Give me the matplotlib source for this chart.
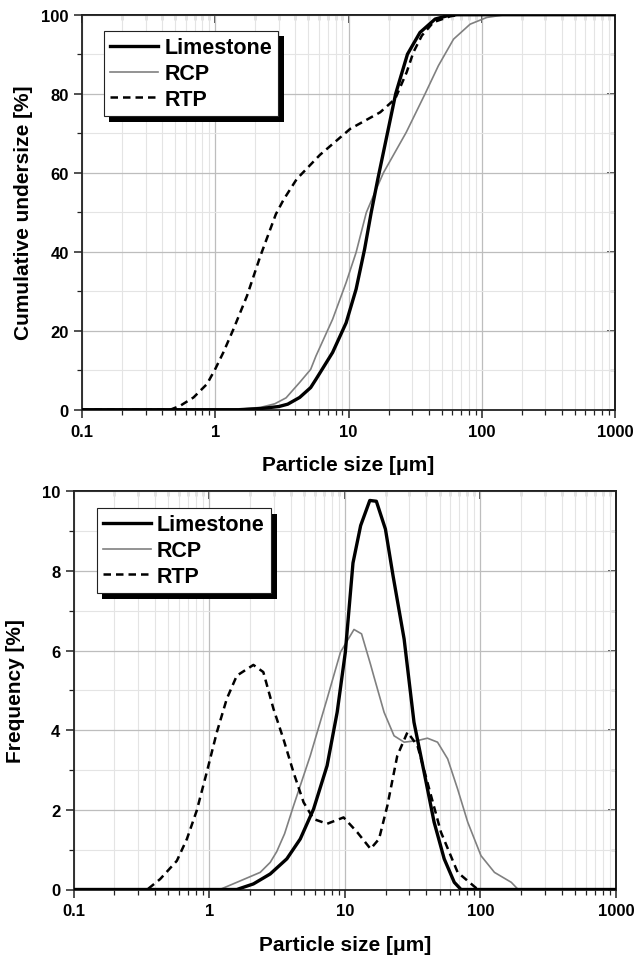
"""
Particle size distributions of limestone, RCP and RTP powders:
cumulative undersize (top) and frequency (bottom) on a log size axis.
"""

import matplotlib
matplotlib.use('Agg')
import matplotlib.pyplot as plt
from matplotlib.patches import Rectangle
from matplotlib.ticker import LogLocator, MultipleLocator, FixedFormatter, FixedLocator
from matplotlib.transforms import IdentityTransform


# --- cumulative undersize [%] -------------------------------------------
LIME_CUM_X = [0.1, 1.5, 2.2, 3.0, 3.5, 4.3, 5.2, 5.7, 7.6, 9.6, 11.4, 13.2,
              14.8, 16.6, 22.6, 27.7, 34.4, 44.7, 54.7, 65, 1000]
LIME_CUM_Y = [0, 0, 0.3, 0.8, 1.4, 3.1, 5.6, 7.7, 14.5, 22, 30.5, 40.6,
              49.9, 58.4, 80, 90, 95.5, 98.9, 99.7, 100, 100]

RCP_CUM_X = [0.1, 1.4, 2.2, 2.8, 3.4, 4.3, 5.2, 5.7, 7.6, 9.6, 11.4, 13.6,
             16, 18.3, 27.1, 37.6, 47.3, 61.4, 81.8, 109, 150, 1000]
RCP_CUM_Y = [0, 0, 0.6, 1.5, 3.0, 6.9, 10.2, 13.6, 22.9, 32.2, 39.8, 49.9,
             55.5, 60, 70.2, 80, 87.1, 93.8, 97.6, 99.3, 100, 100]

RTP_CUM_X = [0.1, 0.46, 0.546, 0.687, 0.867, 1.0, 1.15, 1.37, 1.73, 2.18,
             2.85, 3.26, 4.09, 6.1, 10.3, 17.3, 22.4, 27.3, 30.7, 35.5, 43.4,
             58, 70, 1000]
RTP_CUM_Y = [0, 0, 1.0, 3.1, 6.5, 10.3, 14.5, 20.4, 28.8, 38.9, 49.5, 53.2,
             58.4, 64.5, 71.1, 75.3, 78.7, 85.4, 90.5, 94.7, 98.1, 99.6, 100,
             100]

# --- frequency [%] -------------------------------------------------------
LIME_FREQ_X = [0.1, 1.6, 2.12, 2.82, 3.74, 4.7, 5.89, 7.41, 8.79, 10.1, 11.5,
               13.1, 15.3, 17.1, 19.95, 22.7, 27.4, 32.4, 38.5, 45.6, 54.1,
               64.2, 72, 1000]
LIME_FREQ_Y = [0, 0, 0.14, 0.39, 0.77, 1.27, 2.02, 3.11, 4.45, 5.96, 8.2,
               9.14, 9.77, 9.75, 9.05, 7.88, 6.29, 4.2, 2.94, 1.69, 0.77,
               0.18, 0, 0]

RCP_FREQ_X = [0.1, 1.2, 1.6, 2.38, 2.82, 3.15, 3.6, 4.19, 5.57, 7.41, 9.3,
              11.7, 13.3, 15.5, 16.4, 19.5, 23.1, 27.4, 34.4, 40.7, 48.3,
              57.4, 68, 80.7, 101, 127, 169, 190, 1000]
RCP_FREQ_Y = [0, 0, 0.18, 0.43, 0.68, 0.95, 1.4, 2.1, 3.36, 4.79, 5.96,
              6.53, 6.42, 5.65, 5.35, 4.45, 3.86, 3.7, 3.74, 3.8, 3.7, 3.28,
              2.52, 1.69, 0.85, 0.43, 0.18, 0, 0]

RTP_FREQ_X = [0.1, 0.35, 0.435, 0.578, 0.686, 0.81, 0.96, 1.14, 1.35, 1.6,
              2.12, 2.51, 2.98, 3.53, 4.19, 4.97, 5.89, 7.41, 9.8, 12.35,
              15.5, 17.9, 20.6, 24.4, 29, 34.4, 40.7, 51.2, 68, 95.8, 1000]
RTP_FREQ_Y = [0, 0, 0.26, 0.72, 1.27, 1.98, 2.94, 3.95, 4.79, 5.37, 5.64,
              5.46, 4.54, 3.78, 2.94, 2.19, 1.77, 1.65, 1.81, 1.44, 1.02,
              1.27, 2.1, 3.36, 3.95, 3.61, 2.69, 1.44, 0.43, 0.0, 0]

LABELS = ['Limestone', 'RCP', 'RTP']
X_TICKS = [0.1, 1, 10, 100, 1000]
X_TICK_LABELS = ['0.1', '1', '10', '100', '1000']

FONT = 'Liberation Sans'
TICK_SIZE = 12
LABEL_SIZE = 15
LEGEND_SIZE = 15.5

plt.rcParams['font.family'] = [FONT, 'DejaVu Sans']
plt.rcParams['font.weight'] = 'bold'


def style_axes(ax, ymax, ymajor, yminor):
    ax.set_xscale('log')
    ax.set_xlim(0.1, 1000)
    ax.set_ylim(0, ymax)

    ax.xaxis.set_major_locator(FixedLocator(X_TICKS))
    ax.xaxis.set_major_formatter(FixedFormatter(X_TICK_LABELS))
    ax.xaxis.set_minor_locator(LogLocator(base=10, subs=range(2, 10),
                                          numticks=20))
    ax.xaxis.set_minor_formatter(plt.NullFormatter())
    ax.yaxis.set_major_locator(MultipleLocator(ymajor))
    ax.yaxis.set_minor_locator(MultipleLocator(yminor))

    ax.grid(True, which='major', color='#bdbdbd', lw=0.9, zorder=0)
    ax.grid(True, which='minor', color='#e4e4e4', lw=0.8, zorder=0)
    ax.set_axisbelow(True)

    for s in ax.spines.values():
        s.set_linewidth(1.3)
        s.set_color('#222222')

    # bottom/left ticks point out, top/right ticks point in
    ax.tick_params(axis='both', which='major', length=6, width=1.1,
                   labelsize=TICK_SIZE, color='#222222')
    ax.tick_params(axis='both', which='minor', length=3.5, width=0.9,
                   color='#222222')
    ax.tick_params(which='both', bottom=True, left=True, top=False,
                   right=False, direction='out')
    ax.tick_params(axis='x', which='major', pad=4)

    # mirrored inward ticks on top/right
    top = ax.secondary_xaxis('top')
    top.xaxis.set_major_locator(FixedLocator(X_TICKS))
    top.xaxis.set_minor_locator(LogLocator(base=10, subs=range(2, 10),
                                           numticks=20))
    top.tick_params(which='major', direction='in', length=6, width=1.1,
                    labeltop=False, color='#222222')
    top.tick_params(which='minor', direction='in', length=3.5, width=0.9,
                    color='#222222')
    top.spines['top'].set_linewidth(1.3)

    right = ax.secondary_yaxis('right')
    right.yaxis.set_major_locator(MultipleLocator(ymajor))
    right.yaxis.set_minor_locator(MultipleLocator(yminor))
    right.tick_params(which='major', direction='in', length=6, width=1.1,
                      labelright=False, color='#222222')
    right.tick_params(which='minor', direction='in', length=3.5, width=0.9,
                      color='#222222')
    right.spines['right'].set_linewidth(1.3)

    for lab in ax.get_xticklabels() + ax.get_yticklabels():
        lab.set_fontweight('bold')


def plot_series(ax, data):
    (lx, ly), (rx, ry), (tx, ty) = data
    ax.plot(lx, ly, color='black', lw=2.4, label=LABELS[0], zorder=4)
    ax.plot(rx, ry, color='#808080', lw=1.2, label=LABELS[1], zorder=3)
    ax.plot(tx, ty, color='black', lw=1.8, ls=(0, (3, 2)), label=LABELS[2],
            zorder=3.5)


def add_legend(ax, anchor):
    leg = ax.legend(loc='upper left', bbox_to_anchor=anchor,
                    borderaxespad=0, fancybox=False, framealpha=1,
                    edgecolor='#222222', handlelength=2.2,
                    handletextpad=0.3, labelspacing=0.22, borderpad=0.3,
                    prop={'family': FONT, 'weight': 'bold',
                          'size': LEGEND_SIZE})
    leg.get_frame().set_linewidth(0.8)
    leg.set_zorder(5)
    return leg


def add_shadow(fig, ax, leg, off=5.5):
    fig.canvas.draw()
    bb = leg.get_frame().get_window_extent()
    shadow = Rectangle((bb.x0 + off, bb.y0 - off), bb.width, bb.height,
                       transform=IdentityTransform(), facecolor='black',
                       edgecolor='none', zorder=4.9, clip_on=False)
    ax.add_artist(shadow)


def main():
    fig = plt.figure(figsize=(6.34, 9.62), dpi=100)
    W, H = 634.0, 962.0

    # axes rectangles taken from the reference layout (pixels)
    ax1 = fig.add_axes([82 / W, 1 - 410.7 / H, 533 / W, 395 / H])
    ax2 = fig.add_axes([73.5 / W, 1 - 890.5 / H, 542.5 / W, 398.2 / H])

    plot_series(ax1, [(LIME_CUM_X, LIME_CUM_Y), (RCP_CUM_X, RCP_CUM_Y),
                      (RTP_CUM_X, RTP_CUM_Y)])
    style_axes(ax1, 100, 20, 10)
    ax1.set_ylabel('Cumulative undersize [%]', fontsize=LABEL_SIZE,
                   fontweight='bold', labelpad=6)
    ax1.set_xlabel('Particle size [μm]', fontsize=LABEL_SIZE,
                   fontweight='bold', labelpad=12)

    plot_series(ax2, [(LIME_FREQ_X, LIME_FREQ_Y), (RCP_FREQ_X, RCP_FREQ_Y),
                      (RTP_FREQ_X, RTP_FREQ_Y)])
    style_axes(ax2, 10, 2, 1)
    ax2.set_ylabel('Frequency [%]', fontsize=LABEL_SIZE, fontweight='bold',
                   labelpad=12)
    ax2.set_xlabel('Particle size [μm]', fontsize=LABEL_SIZE,
                   fontweight='bold', labelpad=12)

    leg1 = add_legend(ax1, (0.041, 0.959))
    leg2 = add_legend(ax2, (0.043, 0.958))
    add_shadow(fig, ax1, leg1)
    add_shadow(fig, ax2, leg2)

    fig.savefig('out.png', dpi=100)
    plt.close('all')


if __name__ == '__main__':
    main()
